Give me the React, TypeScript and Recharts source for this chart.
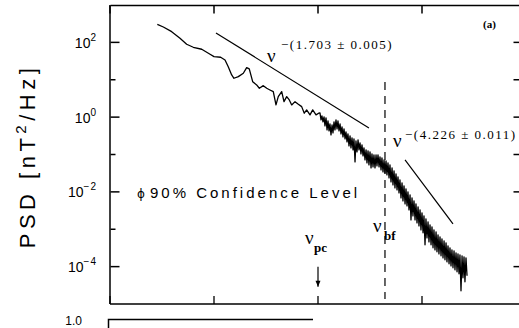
import { LineChart, Line, XAxis, YAxis, ReferenceLine } from 'recharts'

// log10 of frequency (Hz) on each decade tick
const freqDecades = [-3, -2, -1, 0, 1]
// log10 of PSD (nT^2/Hz)
const psdLabelDecades = [-4, -2, 0, 2]
const psdMinorDecades = [-3, -1, 1]
const psdRightDecades = [-4, -3, -2, -1, 0, 1, 2]

// spectrum trace (log10 f, log10 PSD)
const spectrumLogF = [
  -2.545, -2.487, -2.407, -2.327, -2.263, -2.199, -2.118, -2.038, -2.000, -1.936,
  -1.894, -1.863, -1.830, -1.808, -1.766, -1.718, -1.686, -1.661, -1.628, -1.590,
  -1.564, -1.526, -1.493, -1.462, -1.430, -1.404, -1.382, -1.349, -1.327, -1.301,
  -1.276, -1.253, -1.221, -1.189, -1.157, -1.132, -1.109, -1.077, -1.051, -1.019,
  -0.994,
  -0.981, -0.971, -0.962, -0.952, -0.942, -0.933, -0.923, -0.913, -0.904, -0.894,
  -0.885, -0.875, -0.865, -0.856, -0.846, -0.837, -0.827, -0.817, -0.808, -0.798,
  -0.788, -0.779, -0.769, -0.760, -0.750, -0.740, -0.731, -0.721, -0.712, -0.702,
  -0.692, -0.683, -0.673, -0.663, -0.654, -0.644, -0.635, -0.625, -0.615, -0.606,
  -0.596, -0.587, -0.577, -0.567, -0.558, -0.548, -0.538, -0.529, -0.519, -0.510,
  -0.500, -0.490, -0.481, -0.471, -0.462, -0.452, -0.442, -0.433, -0.423, -0.413,
  -0.404, -0.394, -0.385, -0.375, -0.365, -0.356, -0.346, -0.337, -0.327, -0.317,
  -0.308, -0.298, -0.288, -0.279, -0.269, -0.260, -0.250, -0.240, -0.231, -0.221,
  -0.212, -0.202, -0.192, -0.183, -0.173, -0.163, -0.154, -0.144, -0.135, -0.125,
  -0.115, -0.106, -0.096, -0.087, -0.077, -0.067, -0.058, -0.048, -0.038, -0.029,
  -0.019, -0.010, 0.000, 0.010, 0.019, 0.029, 0.038, 0.048, 0.058, 0.067,
  0.077, 0.087, 0.096, 0.106, 0.115, 0.125, 0.135, 0.144, 0.154, 0.163,
  0.173, 0.183, 0.192, 0.202, 0.212, 0.221, 0.231, 0.240, 0.250, 0.260,
  0.269, 0.279, 0.288, 0.298, 0.308, 0.317, 0.327, 0.337, 0.346, 0.356,
  0.365, 0.375, 0.385, 0.394, 0.404, 0.413, 0.423, 0.433,
]
const spectrumLogPsd = [
  2.484, 2.412, 2.286, 2.110, 1.949, 1.869, 1.816, 1.682, 1.618, 1.602,
  1.529, 1.350, 1.128, 1.040, 1.083, 1.174, 1.324, 1.289, 0.949, 0.861,
  0.773, 0.842, 0.773, 0.727, 0.682, 0.326, 0.548, 0.682, 0.414, 0.548,
  0.460, 0.326, 0.414, 0.345, 0.281, 0.104, 0.193, 0.059, 0.193, 0.059,
  0.104,
  0.112, -0.075, 0.032, -0.128, 0.005, -0.235, -0.021, -0.342, -0.102, -0.369,
  -0.182, -0.476, -0.209, -0.422, -0.128, -0.342, -0.075, -0.316, -0.102, -0.369,
  -0.182, -0.449, -0.262, -0.529, -0.316, -0.583, -0.396, -0.663, -0.449, -0.770,
  -0.503, -0.824, -0.556, -0.877, -0.583, -1.198, -0.636, -0.930, -0.610, -0.877,
  -0.690, -0.984, -0.743, -1.037, -0.824, -1.144, -0.877, -1.225, -0.904, -1.278,
  -0.930, -1.358, -0.984, -1.332, -1.011, -1.358, -1.011, -1.305, -1.011, -1.332,
  -1.064, -1.412, -1.091, -1.465, -1.144, -1.492, -1.171, -1.545, -1.225, -1.626,
  -1.278, -1.733, -1.358, -1.813, -1.439, -1.893, -1.519, -1.947, -1.599, -2.027,
  -1.679, -2.160, -1.759, -2.241, -1.840, -2.321, -1.920, -2.374, -2.000, -2.481,
  -2.080, -2.749, -2.160, -2.642, -2.241, -2.749, -2.321, -2.829, -2.401, -2.909,
  -2.481, -3.016, -2.561, -3.096, -2.642, -3.417, -2.722, -3.230, -2.802, -3.337,
  -2.882, -3.417, -2.936, -3.497, -3.016, -3.551, -3.070, -3.604, -3.150, -3.658,
  -3.203, -3.711, -3.257, -3.765, -3.310, -3.818, -3.364, -3.872, -3.444, -3.925,
  -3.497, -3.979, -3.551, -4.032, -3.578, -4.086, -3.631, -4.139, -3.658, -4.193,
  -3.684, -4.647, -3.711, -4.299, -3.738, -4.406, -3.765, -4.246,
]

// power-law fit segments
const fitLowLogF = [-1.981, -0.51]
const fitLowLogPsd = [2.251, -0.289]
const fitHighLogF = [-0.163, 0.298]
const fitHighLogPsd = [-1.144, -2.856]

// break frequency (dashed) and proton cyclotron frequency (arrow)
const breakLogF = -0.356
const breakSpan = [0.941, -4.866]
const protonLogF = -1.0
const protonSpan = [-4.005, -4.54]

const toPoints = (fs: number[], ps: number[]) => fs.map((f, i) => ({ f, p: ps[i] }))
const spectrum = toPoints(spectrumLogF, spectrumLogPsd)
const fitLow = toPoints(fitLowLogF, fitLowLogPsd)
const fitHigh = toPoints(fitHighLogF, fitHighLogPsd)

// chart box
const CHART_W = 530
const CHART_H = 328
const MARGIN = { top: 5, right: 4, bottom: 24, left: 110 }
const X_MIN = -3
const X_MAX = 1
const Y_MIN = -5
const Y_MAX = 3
// same linear mapping the axes use, for the frame ticks in the overlay
const toPx = (d: number) =>
  MARGIN.left + ((d - X_MIN) / (X_MAX - X_MIN)) * (CHART_W - MARGIN.left - MARGIN.right)
const toPy = (d: number) =>
  MARGIN.top + ((Y_MAX - d) / (Y_MAX - Y_MIN)) * (CHART_H - MARGIN.top - MARGIN.bottom)

const sans = '"Liberation Sans", Arial, sans-serif'
const serif = '"Liberation Serif", "Times New Roman", serif'

const PowerTick = ({ x, y, payload }: any) => (
  <text x={x} y={Number(y) + 5.5} textAnchor="end" fontSize={14} fill="#000" fontFamily={sans}>
    10
    <tspan dy={-7} fontSize={10} letterSpacing={1}>
      {String(payload.value).replace('-', '\u2212')}
    </tspan>
  </text>
)

// tick marks only, no label
const NoLabel = () => <g />

const Arrow = (props: any) => {
  const { x1, y1, x2, y2 } = props
  return (
    <g>
      <line x1={x1} y1={y1} x2={x2} y2={y2} stroke="#000" strokeWidth={1.2} />
      <path d={`M${x2 - 2.5},${y2 - 6}L${x2},${y2}L${x2 + 2.5},${y2 - 6}Z`} fill="#000" />
    </g>
  )
}

const axisStroke = { stroke: '#000', strokeWidth: 1.5 }
const tickStroke = { stroke: '#000', strokeWidth: 1.3 }

function FrameTicks() {
  const top = Math.round(toPy(Y_MAX)) + 0.5
  const left = Math.round(toPx(X_MIN)) + 0.5
  const right = Math.round(toPx(X_MAX)) - 0.5
  const s = { stroke: '#000', strokeWidth: 1.5 }
  return (
    <g>
      <line x1={left} y1={top} x2={519} y2={top} {...s} />
      {freqDecades.map((d) => (
        <line key={`t${d}`} x1={toPx(d)} y1={top} x2={toPx(d)} y2={top + 8} {...s} />
      ))}
      {psdLabelDecades.map((d) => (
        <line key={`l${d}`} x1={left} y1={toPy(d)} x2={left + 9} y2={toPy(d)} {...s} />
      ))}
      {psdMinorDecades.map((d) => (
        <line key={`m${d}`} x1={left} y1={toPy(d)} x2={left + 5} y2={toPy(d)} {...s} />
      ))}
      {psdRightDecades.map((d) => (
        <line key={`r${d}`} x1={right - 12} y1={toPy(d)} x2={right} y2={toPy(d)} {...s} />
      ))}
    </g>
  )
}

export default function App() {
  return (
    <div style={{ position: 'absolute', left: 0, top: 0, width: 519, height: 328, overflow: 'hidden', background: '#fff' }}>
      <LineChart
        width={CHART_W}
        height={CHART_H}
        margin={{ top: MARGIN.top, right: MARGIN.right, bottom: MARGIN.bottom, left: 0 }}
      >
        <XAxis
          xAxisId="x"
          dataKey="f"
          type="number"
          domain={[X_MIN, X_MAX]}
          allowDataOverflow
          ticks={freqDecades}
          interval={0}
          orientation="bottom"
          mirror
          tick={<NoLabel />}
          tickSize={8}
          tickLine={tickStroke}
          axisLine={axisStroke}
        />
        <YAxis
          yAxisId="y"
          type="number"
          domain={[Y_MIN, Y_MAX]}
          allowDataOverflow
          ticks={psdLabelDecades}
          interval={0}
          width={MARGIN.left}
          tickLine={false}
          tickSize={0}
          tickMargin={13}
          tick={<PowerTick />}
          axisLine={axisStroke}
        />
        <ReferenceLine
          xAxisId="x"
          yAxisId="y"
          segment={[{ x: breakLogF, y: breakSpan[0] }, { x: breakLogF, y: breakSpan[1] }]}
          stroke="#000"
          strokeWidth={1.2}
          strokeDasharray="8 6"
        />
        <ReferenceLine
          xAxisId="x"
          yAxisId="y"
          segment={[{ x: protonLogF, y: protonSpan[0] }, { x: protonLogF, y: protonSpan[1] }]}
          shape={<Arrow />}
        />
        <Line
          xAxisId="x"
          yAxisId="y"
          data={fitLow}
          dataKey="p"
          stroke="#000"
          strokeWidth={1.2}
          dot={false}
          activeDot={false}
          isAnimationActive={false}
        />
        <Line
          xAxisId="x"
          yAxisId="y"
          data={fitHigh}
          dataKey="p"
          stroke="#000"
          strokeWidth={1.2}
          dot={false}
          activeDot={false}
          isAnimationActive={false}
        />
        <Line
          xAxisId="x"
          yAxisId="y"
          data={spectrum}
          dataKey="p"
          stroke="#000"
          strokeWidth={1.3}
          strokeLinejoin="round"
          dot={false}
          activeDot={false}
          isAnimationActive={false}
        />
      </LineChart>

      <svg width={519} height={328} style={{ position: 'absolute', left: 0, top: 0, pointerEvents: 'none' }}>
        <FrameTicks />

        <text
          x={35}
          y={156}
          transform="rotate(-90 35 156)"
          textAnchor="middle"
          fontSize={22}
          letterSpacing={4.5}
          fontFamily={sans}
          fill="#000"
        >
          PSD [nT<tspan dy={-9} fontSize={15}>2</tspan>
          <tspan dy={9}>/Hz]</tspan>
        </text>

        <text x={483} y={28} fontSize={11} fontWeight="bold" fontFamily={serif} fill="#000">(a)</text>

        <text x={267} y={62} fontSize={19} fontFamily={serif} fill="#000">ν</text>
        <text x={281} y={49} fontSize={13} letterSpacing={1.5} fontFamily={serif} fill="#000">−(1.703 ± 0.005)</text>

        <text x={393} y={147} fontSize={19} fontFamily={serif} fill="#000">ν</text>
        <text x={405} y={139} fontSize={13} letterSpacing={1.5} fontFamily={serif} fill="#000">−(4.226 ± 0.011)</text>

        <text x={137} y={198} fontSize={12} fontFamily='"DejaVu Sans", sans-serif' fill="#000">ϕ</text>
        <text x={150} y={198} fontSize={15} letterSpacing={3} fontFamily={sans} fill="#000">90% Confidence Level</text>

        <text x={373} y={232} fontSize={19} fontFamily={serif} fill="#000">ν</text>
        <text x={384} y={240} fontSize={13} fontWeight="bold" fontFamily={serif} fill="#000">bf</text>

        <text x={305} y={244} fontSize={19} fontFamily={serif} fill="#000">ν</text>
        <text x={314} y={252} fontSize={13} fontWeight="bold" fontFamily={serif} fill="#000">pc</text>

        <text x={82} y={325} textAnchor="end" fontSize={12} fontFamily={sans} fill="#000">1.0</text>
        <path d="M108.5,328 L108.5,319.5 L313,319.5" fill="none" stroke="#000" strokeWidth={1.5} />
      </svg>
    </div>
  )
}
